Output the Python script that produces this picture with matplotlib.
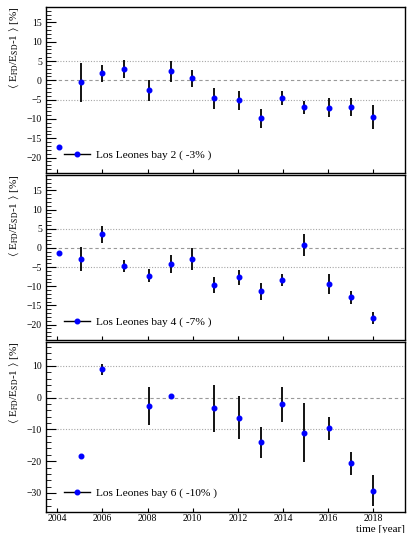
import numpy as np
import matplotlib
matplotlib.use("Agg")
import matplotlib.pyplot as plt
from matplotlib.lines import Line2D
from matplotlib.ticker import MultipleLocator

plt.rcParams['font.family'] = ['Liberation Serif', 'DejaVu Serif']
plt.rcParams['mathtext.fontset'] = 'stix'
plt.rcParams['axes.unicode_minus'] = True

# --- data ---
years = [2004.07, 2005.03, 2005.98, 2006.94, 2008.07, 2009.02, 2009.97, 2010.94,
         2012.05, 2013.02, 2013.97, 2014.94, 2016.05, 2017.02, 2017.98]

bay2 = [-17.3, -0.5, 1.8, 2.9, -2.6, 2.3, 0.5, -4.7, -5.2, -9.8, -4.6, -7.0, -7.1, -6.9, -9.5]
bay2_err = [0, 5.1, 2.3, 2.25, 2.8, 2.6, 2.3, 2.7, 2.4, 2.45, 1.8, 1.75, 2.4, 2.45, 3.1]

bay4 = [-1.2, -2.9, 3.6, -4.8, -7.2, -4.2, -2.9, -9.6, -7.7, -11.35, -8.4, 0.7, -9.4, -12.8, -18.2]
bay4_err = [0, 3.2, 2.2, 1.6, 1.8, 2.3, 2.9, 2.05, 1.9, 2.1, 1.65, 2.85, 2.5, 1.7, 1.6]

years6 = [2005.03, 2005.98, 2008.07, 2009.02, 2010.94, 2012.05, 2013.02, 2013.97,
          2014.94, 2016.05, 2017.02, 2017.98]
bay6 = [-18.5, 8.9, -2.6, 0.6, -3.4, -6.4, -14.1, -2.1, -11.05, -9.6, -20.7, -29.3]
bay6_err = [0, 1.8, 6.05, 0.5, 7.35, 6.75, 5.0, 5.5, 9.3, 3.6, 3.6, 4.8]

labels = ["Los Leones bay 2 ( -3% )", "Los Leones bay 4 ( -7% )", "Los Leones bay 6 ( -10% )"]
xticks = [2004, 2006, 2008, 2010, 2012, 2014, 2016, 2018]

W, H = 408, 533
fig = plt.figure(figsize=(W / 100, H / 100), dpi=100)

# (top, bottom) pixel rows of each panel
rows = [(7, 173), (175, 340), (342, 512)]
left, right = 46, 405

panels = [
    (years, bay2, bay2_err, (-24, 19), 5, 1, [-5, 5]),
    (years, bay4, bay4_err, (-24, 19), 5, 1, [-5, 5]),
    (years6, bay6, bay6_err, (-36, 17.5), 10, 2, [-10, 10]),
]

ylab = r'$\langle$ E$_{\rm FD}$/E$_{\rm SD}$-1 $\rangle$ [%]'

for i, (x, y, e, ylim, major, minor, dots) in enumerate(panels):
    top, bot = rows[i]
    ax = fig.add_axes([left / W, 1 - bot / H, (right - left) / W, (bot - top) / H])
    ax.set_xlim(2003.5, 2019.4)
    ax.set_ylim(*ylim)

    for d in dots:
        ax.axhline(d, color='0.65', lw=0.8, ls=(0, (1, 1.5)), zorder=0)
    ax.axhline(0, color='0.6', lw=0.8, ls=(0, (3, 2.5)), zorder=0)

    ax.errorbar(x, y, yerr=e, fmt='none', ecolor='black', elinewidth=1.3, capsize=0, zorder=2)
    ax.plot(x, y, 'o', color='blue', ms=3.3, zorder=3)

    ax.yaxis.set_major_locator(MultipleLocator(major))
    ax.yaxis.set_minor_locator(MultipleLocator(minor))
    ax.set_xticks(xticks)
    ax.tick_params(axis='y', which='major', direction='in', length=7, width=0.8, labelsize=7, pad=3)
    ax.tick_params(axis='y', which='minor', direction='in', length=3.5, width=0.6)
    ax.tick_params(axis='x', which='major', direction='in', length=3, width=0.8, labelsize=7, pad=1.5)
    if i < 2:
        ax.tick_params(axis='x', labelbottom=False)
    for sp in ax.spines.values():
        sp.set_linewidth(1.0)

    ax.set_ylabel(ylab, fontsize=8, labelpad=4)
    ax.yaxis.label.set_horizontalalignment('right')
    ax.yaxis.label.set_y(1.0)

    handle = Line2D([], [], color='black', lw=1.0, marker='o', mfc='blue', mec='blue', ms=3.3)
    ax.legend([handle], [labels[i]], loc='center left', frameon=False,
              bbox_to_anchor=(0.05, 0.11), borderaxespad=0, borderpad=0,
              handlelength=2.3, handletextpad=0.5, fontsize=8.2)

fig.text(right / W, 1 - 529 / H, 'time [year]', ha='right', va='center', fontsize=8)

fig.savefig('out.png', dpi=100)
